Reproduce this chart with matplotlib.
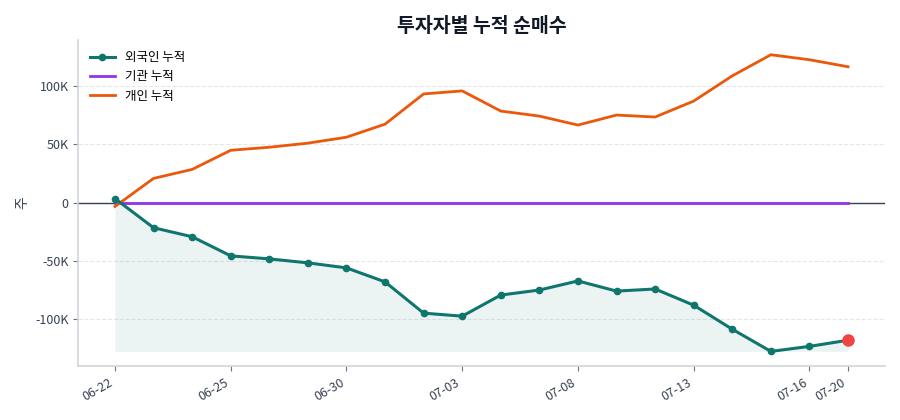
import matplotlib
matplotlib.use("Agg")
from matplotlib import pyplot as plt
from matplotlib.ticker import FuncFormatter
import numpy as np

plt.rcParams['font.family'] = ['Noto Sans CJK KR', 'DejaVu Sans']
plt.rcParams['axes.unicode_minus'] = False

dates = ["06-22", "06-23", "06-24", "06-25", "06-26", "06-29", "06-30", "07-01",
         "07-02", "07-03", "07-06", "07-07", "07-08", "07-09", "07-10", "07-13",
         "07-14", "07-15", "07-16", "07-20"]
foreign = [3400, -21600, -29300, -45700, -48300, -51700, -56000, -68000, -94800, -97400,
           -79300, -75000, -67200, -75900, -74100, -88000, -108600, -127600, -123300, -118000]
inst = [0] * 20
indiv = [-3400, 20700, 28400, 44800, 47400, 50900, 56000, 67200, 93100, 95700,
         78400, 74100, 66400, 75000, 73300, 87000, 108600, 126700, 122400, 116400]
tick_idx = [0, 3, 6, 9, 12, 15, 18, 19]

x = np.arange(len(dates))
fig, ax = plt.subplots(figsize=(9, 4.2), dpi=100)
ax.set_axisbelow(True)

ax.axhline(0, color="#374151", lw=1, zorder=1.5)
ax.fill_between(x, foreign, min(foreign), color="#0f766e", alpha=0.08, lw=0)
ax.plot(x, foreign, color="#0f766e", lw=2.2, marker="o", ms=4.5, label="외국인 누적", zorder=3)
ax.plot(x, inst, color="#9333ea", lw=2, label="기관 누적", zorder=2)
ax.plot(x, indiv, color="#ea580c", lw=2, label="개인 누적", zorder=2)
ax.plot(x[-1], foreign[-1], "o", color="#ef4444", ms=8, zorder=4)

ax.set_title("투자자별 누적 순매수", fontsize=14, fontweight="bold", color="#111827")
ax.set_ylabel("주", color="#374151")
ax.yaxis.set_major_formatter(FuncFormatter(lambda v, p: "0" if v == 0 else f"{v/1000:.0f}K"))
ax.set_xticks(tick_idx)
ax.set_xticklabels([dates[i] for i in tick_idx], rotation=30, ha="right")
ax.tick_params(colors="#6b7280", labelcolor="#374151", labelsize=9)
ax.grid(axis="y", ls="--", color="#e5e7eb", lw=0.8)
for s in ["top", "right"]:
    ax.spines[s].set_visible(False)
for s in ["left", "bottom"]:
    ax.spines[s].set_color("#d1d5db")
    ax.spines[s].set_linewidth(1.2)
ax.legend(loc="upper left", frameon=False, fontsize=9)

fig.subplots_adjust(left=0.087, right=0.983, top=0.905, bottom=0.128)
fig.savefig("out.png")
